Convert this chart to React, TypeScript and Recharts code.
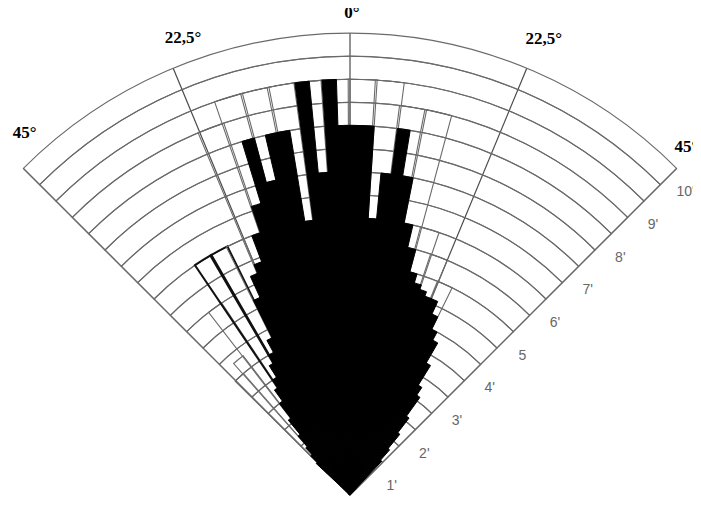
import { RadialBarChart, RadialBar, PolarAngleAxis, PolarRadiusAxis, PolarGrid, Cell } from 'recharts';

// grid rings (half units out to 10)
const ringLevels = ['0.5', '1', '1.5', '2', '2.5', '3', '3.5', '4', '4.5', '5', '5.5', '6', '6.5', '7', '7.5', '8', '8.5', '9', '9.5', '10'];
const ringSpan = [-45, 45];

const angleTicks = [-45, -22.5, 0, 22.5, 45];
const radiusTicks = [1, 2, 3, 4, 5, 6, 7, 8, 9, 10];
const radiusTickLabels = ["1'", "2'", "3'", "4'", '5', "6'", "7'", "8'", "9'", "10'"];

// filled rose, 1.875° classes (start angle of each class)
const fineBins = [
  '-45', '-43.125', '-41.25', '-39.375', '-37.5', '-35.625', '-33.75', '-31.875',
  '-30', '-28.125', '-26.25', '-24.375', '-22.5', '-20.625', '-18.75', '-16.875',
  '-15', '-13.125', '-11.25', '-9.375', '-7.5', '-5.625', '-3.75', '-1.875',
  '0', '1.875', '3.75', '5.625', '7.5', '9.375', '11.25', '13.125',
  '15', '16.875', '18.75', '20.625', '22.5', '24.375', '26.25', '28.125',
  '30', '31.875', '33.75', '35.625', '37.5', '39.375', '41.25', '43.125',
];
const blackCounts = [
  1.0, 1.2, 1.4, 1.7, 2.1, 2.5, 2.8, 3.0,
  3.3, 3.5, 3.8, 4.7, 5.2, 5.4, 6.0, 6.6,
  8.0, 7.0, 8.0, 8.0, 6.0, 9.0, 7.0, 9.0,
  8.0, 8.0, 8.0, 6.0, 7.0, 8.0, 7.0, 6.0,
  5.5, 5.0, 4.8, 4.7, 4.6, 4.6, 4.3, 4.0,
  3.8, 3.3, 2.8, 2.6, 2.1, 1.7, 1.3, 1.0,
];

// open rose, 3.75° classes
const coarseBins = [
  '-45', '-41.25', '-37.5', '-33.75', '-30', '-26.25', '-22.5', '-18.75',
  '-15', '-11.25', '-7.5', '-3.75', '0', '3.75', '7.5', '11.25',
  '15', '18.75', '22.5', '26.25', '30', '33.75', '37.5', '41.25',
];
const outlineCounts = [
  0, 3.5, 3.8, 5.0, 6.0, 6.0, 6.0, 8.5,
  9.0, 9.0, 9.0, 9.0, 9.0, 9.0, 9.0, 8.5,
  8.5, 6.0, 5.5, 5.0, 0, 0, 0, 0,
];
const heavyOutlineBins = ['-30', '-26.25'];

const ringRows = ringLevels.map(ring => ({ ring, span: ringSpan }));
const fineRows = fineBins.map((bin, i) => ({ bin, value: blackCounts[i] }));
const coarseRows = coarseBins.map((bin, i) => ({ bin, value: outlineCounts[i] }));

const W = 701;
const H = 501;
const polar = {
  width: W,
  height: H,
  cx: 350,
  cy: 495,
  innerRadius: 0,
  outerRadius: 462,
  startAngle: 135,
  endAngle: 45,
  barCategoryGap: 0,
  margin: { top: 0, right: 0, bottom: 0, left: 0 },
};

const angleNudge: Record<string, [number, number]> = {
  '-45': [7, -25],
  '-22.5': [13, -18],
  '0': [2, -7],
  '22.5': [14, -17],
  '45': [4, -11],
};

const AngleTick = (props: any) => {
  const { x, y, payload } = props;
  const [dx, dy] = angleNudge[String(payload.value)] ?? [0, 0];
  const label = `${Math.abs(payload.value)}°`.replace('.', ',');
  return (
    <text x={x + dx} y={y + dy} textAnchor="middle" fontSize={17} fontWeight="bold"
      fontFamily="'Liberation Serif', 'Times New Roman', serif" fill="#000">
      {label}
    </text>
  );
};

const RadiusTick = (props: any) => {
  const { x, y, payload } = props;
  const i = radiusTicks.indexOf(payload.value);
  if (i < 0) return <g />;
  return (
    <text x={x + 9} y={y + 28} textAnchor="middle" fontSize={14}
      fontFamily="'Liberation Sans', Arial, sans-serif" fill="#666">
      {radiusTickLabels[i]}
    </text>
  );
};

const layer = { position: 'absolute' as const, top: 0, left: 0 };

export default function App() {
  return (
    <div style={{ position: 'relative', width: W, height: H, margin: '-8px 0 0 -8px' }}>
      <div style={layer}>
        <RadialBarChart {...polar} data={ringRows} layout="radial">
          <PolarAngleAxis type="number" domain={[-45, 45]} ticks={angleTicks} tickCount={5}
            tick={<AngleTick />} axisLine={false} tickLine={false} />
          <PolarRadiusAxis type="category" dataKey="ring" tick={false} axisLine={false} tickLine={false} />
          <PolarGrid gridType="circle" polarRadius={[]} stroke="#4a4a4a" strokeWidth={1.2} />
          <RadialBar dataKey="span" fill="none" stroke="#6a6a6a" strokeWidth={1.1} isAnimationActive={false} />
        </RadialBarChart>
      </div>
      <div style={layer}>
        <RadialBarChart {...polar} data={coarseRows} layout="centric">
          <PolarAngleAxis type="category" dataKey="bin" tick={false} axisLine={false} tickLine={false} />
          <PolarRadiusAxis type="number" domain={[0, 10]} tick={false} axisLine={false} tickLine={false} />
          <RadialBar dataKey="value" fill="none" isAnimationActive={false}>
            {coarseRows.map(row => {
              const heavy = heavyOutlineBins.includes(row.bin);
              return <Cell key={row.bin} stroke={heavy ? '#111' : '#6a6a6a'} strokeWidth={heavy ? 2 : 1.1} />;
            })}
          </RadialBar>
        </RadialBarChart>
      </div>
      <div style={layer}>
        <RadialBarChart {...polar} data={fineRows} layout="centric">
          <PolarAngleAxis type="category" dataKey="bin" tick={false} axisLine={false} tickLine={false} />
          <PolarRadiusAxis type="number" domain={[0, 10]} angle={45} ticks={radiusTicks} tickCount={11}
            tick={<RadiusTick />} axisLine={false} tickLine={false} />
          <RadialBar dataKey="value" fill="#000" stroke="#000" strokeWidth={1} isAnimationActive={false} />
        </RadialBarChart>
      </div>
    </div>
  );
}
